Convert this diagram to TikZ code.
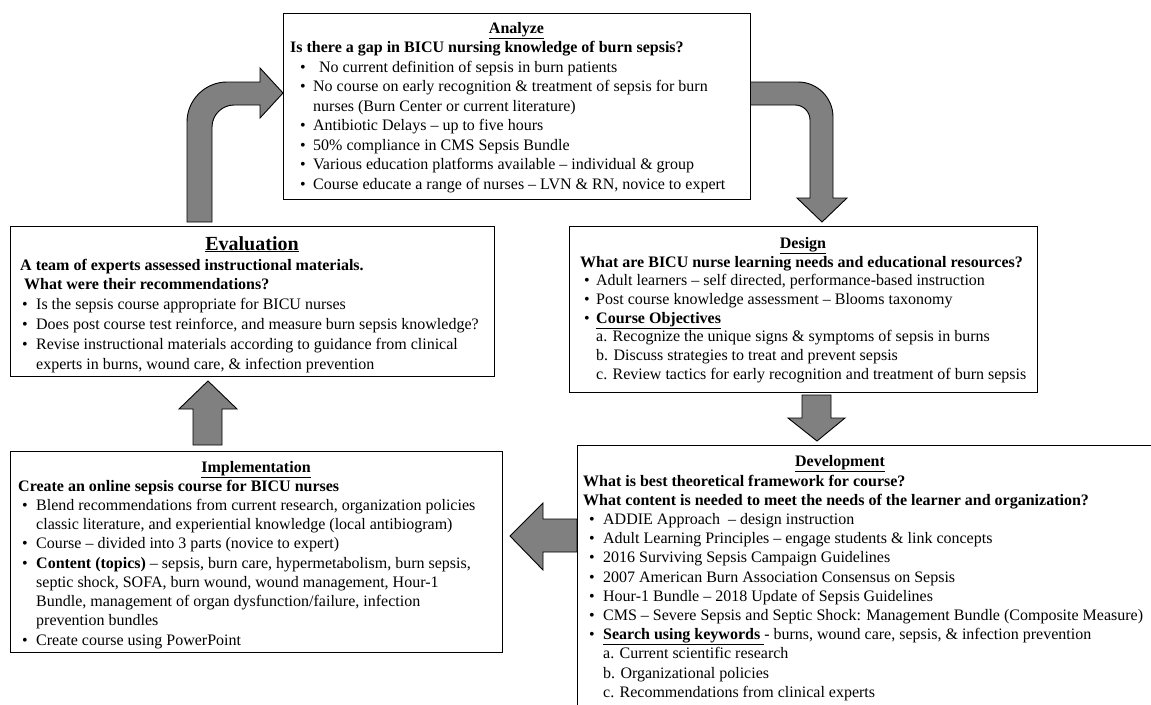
\documentclass[tikz,border=0pt]{standalone}
\usepackage{fontspec}
\setmainfont{Liberation Serif}
\newlength\bi
\newlength\bt
\newcommand\B{\hspace*{\bi}\makebox[\bt][l]{\textbullet}}
\newcommand\C{\hspace*{\dimexpr\bi+\bt\relax}}
\definecolor{arrowgray}{RGB}{128,128,128}
\tikzset{
  box/.style={draw=black, line width=1.3pt, fill=white, anchor=north west, inner sep=0pt},
  blockarrow/.style={draw=black, line width=0.9pt, fill=arrowgray, line join=miter},
  titletext/.style={anchor=base, inner sep=0pt, font=\fontsize{16}{19}\selectfont\bfseries},
  bodytext/.style={anchor=base west, inner sep=0pt},
}
\begin{document}
\begin{tikzpicture}[x=1pt,y=-1pt]
\useasboundingbox (0,0) rectangle (1151,704);
\clip (0,0) rectangle (1151,704);

% block arrows
\draw[blockarrow] (187,222) -- (187,122) .. controls (187,100) and (205,82) .. (227,82) -- (260,82) -- (260,68) -- (283,93) -- (260,118) -- (260,105) -- (234,105) .. controls (222,105) and (212,115) .. (212,127) -- (212,222) -- cycle;
\draw[blockarrow] (750,82) -- (798,82) .. controls (817.3,82) and (833,97.7) .. (833,117) -- (833,198) -- (847,198) -- (822,222) -- (797,198) -- (810,198) -- (810,120) .. controls (810,111.7) and (803.3,105) .. (795,105) -- (750,105) -- cycle;
\draw[blockarrow] (802,395) -- (802,418) -- (788,418) -- (817,441) -- (845,418) -- (831,418) -- (831,395) -- cycle;
\draw[blockarrow] (577,519) -- (543,519) -- (543,503) -- (510,536) -- (543,570) -- (543,552) -- (577,552) -- cycle;
\draw[blockarrow] (193,445) -- (193,409) -- (179,409) -- (208,381) -- (237,409) -- (222,409) -- (222,445) -- cycle;

% boxes
\node[box, minimum width=467pt, minimum height=186pt] (analyze) at (283,13) {};
\node[box, minimum width=484pt, minimum height=150pt] (evaluation) at (10,226) {};
\node[box, minimum width=468pt, minimum height=166pt] (design) at (569,226) {};
\node[box, minimum width=620pt, minimum height=300pt] (development) at (577,445) {};
\node[box, minimum width=492pt, minimum height=201pt] (implementation) at (10,451) {};

% titles
\node[titletext] (tA) at (516.5,33) {\underline{Analyze}};
\node[titletext, font=\fontsize{20}{24}\selectfont\bfseries] (tE) at (252,250) {\underline{Evaluation}};
\node[titletext] (tD) at (803,248) {\underline{Design}};
\node[titletext] (tDev) at (840,466) {\underline{Development}};
\node[titletext] (tI) at (256,472) {\underline{Implementation}};

% bodies
\node[bodytext] (bA) at (290,52.5) {\parbox[t]{460pt}{\fontsize{16}{19.5}\selectfont\setlength\bi{10pt}\setlength\bt{13pt}\raggedright
\textbf{Is there a gap in BICU nursing knowledge of burn sepsis?}\\
\B\hspace*{6pt}No current definition of sepsis in burn patients\\
\B No course on early recognition \& treatment of sepsis for burn\\
\C nurses (Burn Center or current literature)\\
\B Antibiotic Delays – up to five hours\\
\B 50\% compliance in CMS Sepsis Bundle\\
\B Various education platforms available – individual \& group\\
\B Course educate a range of nurses – LVN \& RN, novice to expert}};

\node[bodytext] (bE) at (20,270) {\parbox[t]{470pt}{\fontsize{16}{19.8}\selectfont\setlength\bi{2pt}\setlength\bt{14pt}\raggedright
\textbf{A team of experts assessed instructional materials.}\\
\textbf{\ What were their recommendations?}\\
\B Is the sepsis course appropriate for BICU nurses\\
\B Does post course test reinforce, and measure burn sepsis knowledge?\\
\B Revise instructional materials according to guidance from clinical\\
\C experts in burns, wound care, \& infection prevention}};

\node[bodytext] (bD) at (580,267) {\parbox[t]{460pt}{\fontsize{16}{18.7}\selectfont\setlength\bi{4pt}\setlength\bt{12pt}\raggedright
\textbf{What are BICU nurse learning needs and educational resources?}\\
\B Adult learners – self directed, performance-based instruction\\
\B Post course knowledge assessment – Blooms taxonomy\\
\B \textbf{\underline{Course Objectives}}\\
\C a. Recognize the unique signs \& symptoms of sepsis in burns\\
\C b. Discuss strategies to treat and prevent sepsis\\
\C c. Review tactics for early recognition and treatment of burn sepsis}};

\node[bodytext] (bDev) at (583,486) {\parbox[t]{560pt}{\fontsize{16}{19.2}\selectfont\setlength\bi{6pt}\setlength\bt{14pt}\raggedright
\textbf{What is best theoretical framework for course?}\\
\textbf{What content is needed to meet the needs of the learner and organization?}\\
\B ADDIE Approach \ – design instruction\\
\B Adult Learning Principles – engage students \& link concepts\\
\B 2016 Surviving Sepsis Campaign Guidelines\\
\B 2007 American Burn Association Consensus on Sepsis\\
\B Hour-1 Bundle – 2018 Update of Sepsis Guidelines\\
\B CMS – Severe Sepsis and Septic Shock: Management Bundle (Composite Measure)\\
\B \underline{\textbf{Search using keywords }}- burns, wound care, sepsis, \& infection prevention\\
\C a. Current scientific research\\
\C b. Organizational policies\\
\C c. Recommendations from clinical experts}};

\node[bodytext] (bI) at (18,491) {\parbox[t]{480pt}{\fontsize{16}{19.25}\selectfont\setlength\bi{4pt}\setlength\bt{14pt}\raggedright
\textbf{Create an online sepsis course for BICU nurses}\\
\B Blend recommendations from current research, organization policies\\
\C classic literature, and experiential knowledge (local antibiogram)\\
\B Course – divided into 3 parts (novice to expert)\\
\B \textbf{Content (topics)} – sepsis, burn care, hypermetabolism, burn sepsis,\\
\C septic shock, SOFA, burn wound, wound management, Hour-1\\
\C Bundle, management of organ dysfunction/failure, infection\\
\C prevention bundles\\
\B Create course using PowerPoint}};
\end{tikzpicture}
\end{document}
